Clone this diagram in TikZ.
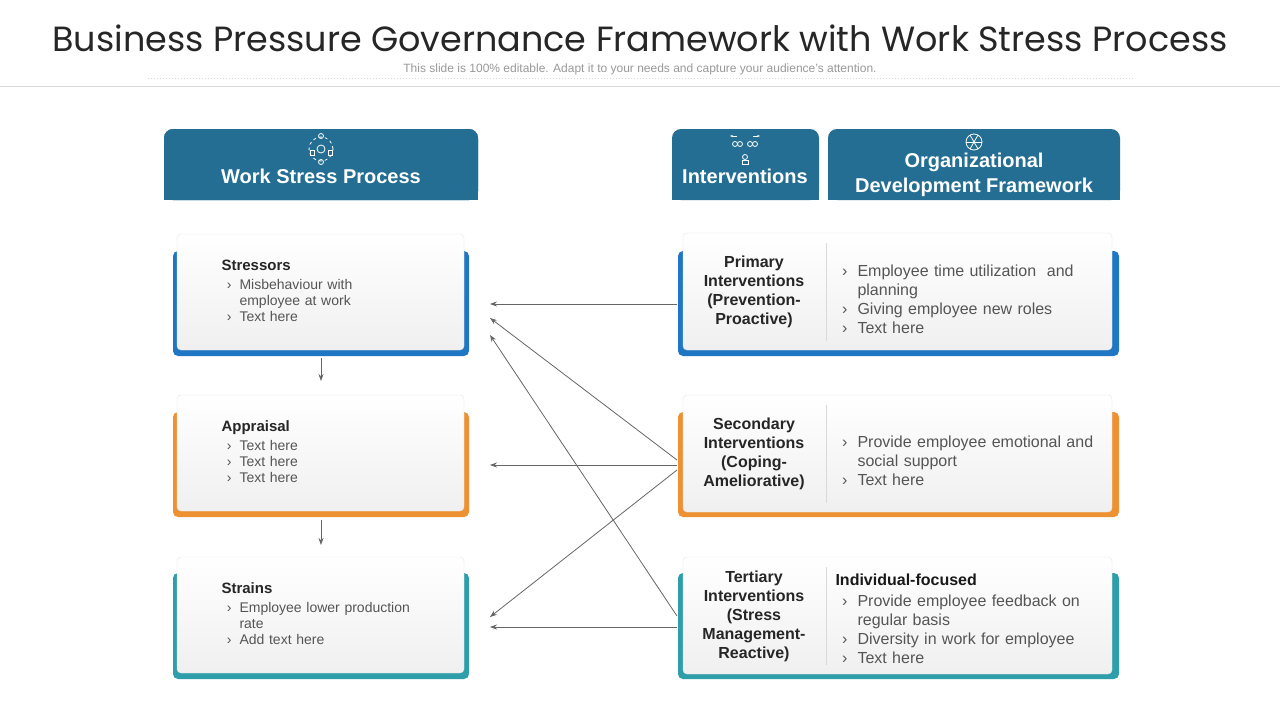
\documentclass[tikz,border=0pt]{standalone}
\usepackage{fontspec}
\setmainfont{Liberation Sans}
\newfontfamily\titlefont{Poppins}
\usetikzlibrary{arrows.meta,calc}
\definecolor{hdr}{RGB}{35,110,146}
\definecolor{cblue}{RGB}{31,119,196}
\definecolor{corange}{RGB}{237,145,51}
\definecolor{cteal}{RGB}{46,158,170}
\definecolor{txt}{RGB}{85,85,85}
\tikzset{
 hdrbox/.style={fill=hdr,rounded corners=9pt},
 base/.style={rounded corners=5pt},
 card/.style={rounded corners=4pt,top color=white,bottom color=gray!12,draw=gray!20,drop shadow/.try},
 conn/.style={draw=gray!80!black,line width=0.8pt,-{Stealth[length=7pt,width=5pt]}},
 htext/.style={text=white,font=\bfseries\fontsize{20}{23}\selectfont,align=center},
}
\newcommand{\bl}[1]{\item[\textcolor{txt}{›}] #1}
\begin{document}
\begin{tikzpicture}[x=1pt,y=-1pt]
\useasboundingbox (0,0) rectangle (1280,720);
\fill[white] (0,0) rectangle (1280,720);
\node[font=\titlefont\fontsize{35}{40}\selectfont,text=black!85] (title) at (640,38) {Business Pressure Governance Framework with Work Stress Process};
\node[font=\fontsize{12}{14}\selectfont,text=gray!80] (sub) at (640,69) {This slide is 100\% editable. Adapt it to your needs and capture your audience's attention.};
\draw[gray!30,dotted,line width=1pt] (148,78) -- (1135,78);
\draw[gray!30] (0,86) -- (1280,86);
% headers
\path[hdrbox] (164,200) |- (478,129) |- cycle;
\fill[hdr] (164,180) rectangle (478,200);
\fill[hdrbox] (164,129) rectangle (478,200);
\fill[hdr] (164,160) rectangle (478,200);
\fill[hdrbox] (672,129) rectangle (819,200);
\fill[hdr] (672,160) rectangle (819,200);
\fill[hdrbox] (828,129) rectangle (1120,200);
\fill[hdr] (828,160) rectangle (1120,200);
\node[htext] (h1) at (321,176) {Work Stress Process};
\node[htext] (h2) at (745,176) {Interventions};
\node[htext,font=\bfseries\fontsize{20}{25}\selectfont] (h3) at (974,175) {Organizational\\Development Framework};
% icons
\begin{scope}[white,line width=0.8pt]
\draw (321,149) circle (4); \draw[dashed] (321,149) circle (12);
\draw (310,150) rectangle (314,155); \draw (328,150) rectangle (332,155);
\draw (321,136) circle (2.5); \draw (321,162) circle (2.5);
\draw (735,144) circle (2.5); \draw (740,144) circle (2.5); \draw (750,144) circle (2.5); \draw (755,144) circle (2.5);
\draw (745,157) circle (2.5); \draw (742,160) rectangle (748,164);
\draw[-{Stealth[length=3pt]}] (737,136) -- (730,136); \draw[-{Stealth[length=3pt]}] (753,136) -- (760,136);
\draw (974,142) circle (8); \draw (966,142) -- (982,142); \draw (970,135) -- (978,149); \draw (978,135) -- (970,149);
\end{scope}
% left boxes
\fill[base,cblue] (173,251) rectangle (469,356);
\fill[base,corange] (173,412) rectangle (469,517);
\fill[base,cteal] (173,573) rectangle (469,679);
\foreach \n/\y in {s1/234,s2/395,s3/557}
  \path[card] (177,\y) rectangle (464,\y+116) coordinate[pos=0.5] (\n);
\node[anchor=north west,text width=200pt,align=left,font=\fontsize{14}{16}\selectfont,text=txt] (t1) at (218,256) {{\bfseries\fontsize{15}{18}\selectfont\textcolor{black!85}{Stressors}}\par
\begin{list}{}{\leftmargin=18pt\labelsep=8pt\itemsep=0pt\parsep=0pt\topsep=1pt}
\bl{Misbehaviour with\\employee at work}\bl{Text here}\end{list}};
\node[anchor=north west,text width=200pt,align=left,font=\fontsize{14}{16}\selectfont,text=txt] (t2) at (218,417) {{\bfseries\fontsize{15}{18}\selectfont\textcolor{black!85}{Appraisal}}\par
\begin{list}{}{\leftmargin=18pt\labelsep=8pt\itemsep=0pt\parsep=0pt\topsep=1pt}
\bl{Text here}\bl{Text here}\bl{Text here}\end{list}};
\node[anchor=north west,text width=200pt,align=left,font=\fontsize{14}{16}\selectfont,text=txt] (t3) at (218,579) {{\bfseries\fontsize{15}{18}\selectfont\textcolor{black!85}{Strains}}\par
\begin{list}{}{\leftmargin=18pt\labelsep=8pt\itemsep=0pt\parsep=0pt\topsep=1pt}
\bl{Employee lower production\\rate}\bl{Add text here}\end{list}};
% right boxes
\fill[base,cblue] (678,251) rectangle (1119,356);
\fill[base,corange] (678,412) rectangle (1119,517);
\fill[base,cteal] (678,573) rectangle (1119,679);
\foreach \y in {233,395,557}{
  \path[card] (683,\y) rectangle (1112,\y+117);
  \draw[gray!30] (826,\y+10) -- (826,\y+108);}
\node[align=center,font=\bfseries\fontsize{16}{19}\selectfont,text=black!85] (p1) at (754,292) {Primary\\Interventions\\(Prevention-\\Proactive)};
\node[align=center,font=\bfseries\fontsize{16}{19}\selectfont,text=black!85] (p2) at (754,454) {Secondary\\Interventions\\(Coping-\\Ameliorative)};
\node[align=center,font=\bfseries\fontsize{16}{19}\selectfont,text=black!85] (p3) at (754,616) {Tertiary\\Interventions\\(Stress\\Management-\\Reactive)};
\tikzset{rlist/.style={anchor=north west,text width=260pt,align=left,font=\fontsize{16}{19}\selectfont,text=txt}}
\node[rlist] (r1) at (832,254) {\begin{list}{}{\leftmargin=22pt\labelsep=10pt\itemsep=0pt\parsep=0pt\topsep=0pt}
\bl{Employee time utilization \ and\\planning}\bl{Giving employee new roles}\bl{Text here}\end{list}};
\node[rlist] (r2) at (832,425) {\begin{list}{}{\leftmargin=22pt\labelsep=10pt\itemsep=0pt\parsep=0pt\topsep=0pt}
\bl{Provide employee emotional and\\social support}\bl{Text here}\end{list}};
\node[rlist] (r3) at (832,570) {{\bfseries\textcolor{black!90}{Individual-focused}}\par\begin{list}{}{\leftmargin=22pt\labelsep=10pt\itemsep=0pt\parsep=0pt\topsep=0pt}
\bl{Provide employee feedback on\\regular basis}\bl{Diversity in work for employee}\bl{Text here}\end{list}};
% connectors
\coordinate (a1) at (677,304); \coordinate (a2) at (677,465); \coordinate (a2u) at (677,460); \coordinate (a2d) at (677,470);
\coordinate (a3) at (677,627); \coordinate (a3u) at (677,616);
\coordinate (b1) at (490,304); \coordinate (b1a) at (490,318); \coordinate (b1b) at (490,335);
\coordinate (b2) at (490,465); \coordinate (b3) at (490,627); \coordinate (b3a) at (490,617);
\draw[conn] (a1) -- (b1);
\draw[conn] (a2) -- (b2);
\draw[conn] (a2u) -- (b1a);
\draw[conn] (a2d) -- (b3a);
\draw[conn] (a3) -- (b3);
\draw[conn] (a3u) -- (b1b);
\coordinate (d1) at (321,358); \coordinate (e1) at (321,381);
\coordinate (d2) at (321,520); \coordinate (e2) at (321,545);
\draw[conn] (d1) -- (e1);
\draw[conn] (d2) -- (e2);
\end{tikzpicture}
\end{document}
